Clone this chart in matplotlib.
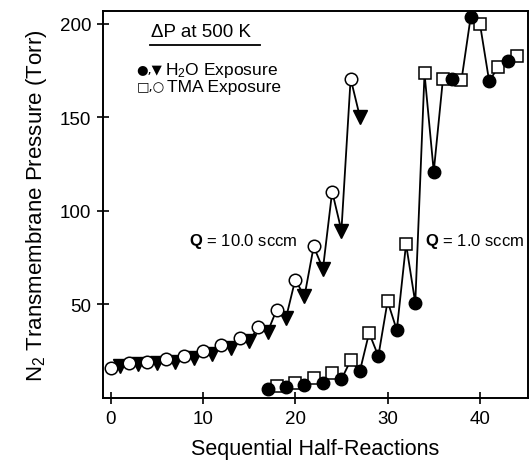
import numpy as np
import matplotlib.pyplot as plt

plt.rcParams['font.family'] = ['Liberation Sans', 'DejaVu Sans']
plt.rcParams['mathtext.fontset'] = 'custom'
plt.rcParams['mathtext.rm'] = 'Liberation Sans'
plt.rcParams['mathtext.it'] = 'Liberation Sans'
plt.rcParams['mathtext.bf'] = 'Liberation Sans:bold'

# Q = 10.0 sccm: TMA (open circles) on even steps, H2O (triangles) on odd steps
hr_10 = list(range(0, 28))
p_10 = [16.0, 17.0, 18.7, 18.0, 19.4, 18.5, 20.6, 19.4, 22.4, 21.2,
        25.0, 23.3, 28.3, 26.5, 32.2, 30.4, 37.9, 35.2, 47.3, 42.8,
        63.2, 54.4, 81.0, 69.0, 110.3, 89.5, 170.7, 150.3]

# Q = 1.0 sccm: H2O (filled circles) on odd steps, TMA (open squares) on even steps
hr_1 = list(range(17, 45))
p_1 = [4.6, 6.4, 5.9, 8.2, 7.0, 10.9, 8.2, 13.2, 10.0, 20.1,
       14.4, 34.8, 22.4, 51.7, 36.3, 82.3, 50.8, 173.4, 121.0, 170.7,
       170.7, 169.8, 203.6, 200.0, 169.3, 177.0, 180.0, 182.8]

x_ticks = [0, 10, 20, 30, 40]
y_ticks = [50, 100, 150, 200]

fig = plt.figure(figsize=(5.29, 4.64), dpi=100)
ax = fig.add_axes([0.195, 0.14, 0.803, 0.835])

x10 = np.array(hr_10)
y10 = np.array(p_10)
x1 = np.array(hr_1)
y1 = np.array(p_1)

ax.plot(x10, y10, color='black', lw=1.3, zorder=2)
ax.plot(x10[x10 % 2 == 1], y10[x10 % 2 == 1], ls='none', marker='v', ms=9.5,
        mfc='black', mec='black', zorder=3)
ax.plot(x10[x10 % 2 == 0], y10[x10 % 2 == 0], ls='none', marker='o', ms=9,
        mfc='white', mec='black', mew=1.1, zorder=4)

ax.plot(x1, y1, color='black', lw=1.3, zorder=2)
ax.plot(x1[x1 % 2 == 0], y1[x1 % 2 == 0], ls='none', marker='s', ms=8.5,
        mfc='white', mec='black', mew=1.1, zorder=3)
ax.plot(x1[x1 % 2 == 1], y1[x1 % 2 == 1], ls='none', marker='o', ms=9,
        mfc='black', mec='black', zorder=4)

ax.set_xlim(-0.8, 45.2)
ax.set_ylim(0, 207)
ax.set_xticks(x_ticks)
ax.set_yticks(y_ticks)
ax.tick_params(direction='inout', length=9, width=1.2, labelsize=13.5, pad=4)
for s in ax.spines.values():
    s.set_linewidth(1.4)

ax.set_xlabel('Sequential Half-Reactions', fontsize=15.5, labelpad=8)
ax.set_ylabel('N$_{\\mathrm{2}}$ Transmembrane Pressure (Torr)', fontsize=16, labelpad=8)

ax.text(8.5, 84, r'$\mathbf{Q}$ = 10.0 sccm', fontsize=12, va='center')
ax.text(34.0, 84, r'$\mathbf{Q}$ = 1.0 sccm', fontsize=12, va='center')

# legend block: symbol keys in DejaVu, labels in Liberation
ax.text(0.231, 0.945, '\u0394P at 500 K', transform=ax.transAxes,
        fontsize=13.5, ha='center', va='center')
ax.plot([0.110, 0.369], [0.910, 0.910], transform=ax.transAxes,
        color='black', lw=1.3, clip_on=False)
ax.text(0.079, 0.847, '\u25cf,\u25bc', transform=ax.transAxes, family='DejaVu Sans',
        fontsize=9.5, ha='left', va='center')
ax.text(0.146, 0.847, 'H$_{\\mathrm{2}}$O Exposure', transform=ax.transAxes,
        fontsize=12.5, ha='left', va='center')
ax.text(0.079, 0.803, '\u25a1,\u25cb', transform=ax.transAxes, family='DejaVu Sans',
        fontsize=9.5, ha='left', va='center')
ax.text(0.150, 0.803, 'TMA Exposure', transform=ax.transAxes,
        fontsize=12.5, ha='left', va='center')

fig.savefig('out.png', dpi=100)
